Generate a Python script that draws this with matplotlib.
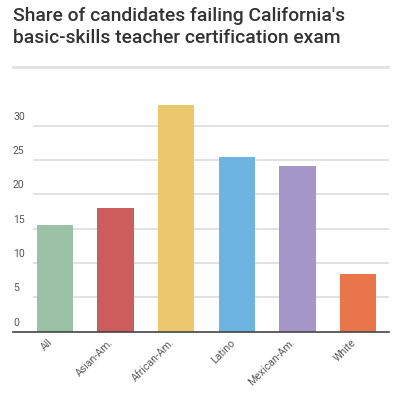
import matplotlib.pyplot as plt

categories = ["All", "Asian-Am.", "African-Am.", "Latino", "Mexican-Am.", "White"]
values = [15.6, 18.0, 33.0, 25.4, 24.1, 8.4]
colors = ["#9bc2a6", "#cd5d5c", "#ebc76d", "#6db5e0", "#a496c6", "#e9764b"]
yticks = [0, 5, 10, 15, 20, 25, 30]
title = "Share of candidates failing California's\nbasic-skills teacher certification exam"

plt.rcParams['font.family'] = ['Roboto', 'DejaVu Sans']

fig = plt.figure(figsize=(4, 3.97), dpi=100)
W, H = 400, 397

# axes placed in pixel terms
left, right, bottom, top = 33, 389, 397 - 331.7, 397 - 91.3
ax = fig.add_axes([left / W, bottom / H, (right - left) / W, (top - bottom) / H])

x = range(len(categories))
ax.bar(x, values, width=0.6, color=colors, zorder=3)

ax.set_xlim(-0.36, 5.51)
ax.set_ylim(0, 35)

# gridlines
for v in yticks[1:]:
    ax.axhline(v, color="#d9d9d9", lw=1.1, zorder=1)
# baseline runs under the tick labels too
ax.axhline(0, xmin=-20 / (right - left), xmax=1, color="#444444", lw=1.2,
           clip_on=False, zorder=4)

# y tick labels, left of gridlines, sitting above them
tr = ax.get_yaxis_transform()
for v in yticks:
    ax.text(-20 / (right - left), v + 0.6, str(v), transform=tr, ha="left",
            va="bottom", fontsize=7.5, color="#555555")

ax.set_yticks([])
ax.set_xticks(list(x))
ax.set_xticklabels(categories, rotation=45, ha="right", fontsize=7.6, color="#5a5a5a")
ax.tick_params(axis="x", length=0, pad=4)
for s in ax.spines.values():
    s.set_visible(False)

fig.text(13 / W, 1 - 7 / H, title, ha="left", va="top", fontsize=13.9,
         color="#333333", fontweight="medium", linespacing=1.3)

# grey rule under the title
fig.add_artist(plt.Line2D([13 / W, 388 / W], [1 - 67 / H, 1 - 67 / H],
                          color="#e3e3e3", lw=2.2))

fig.savefig("out.png", dpi=100)
